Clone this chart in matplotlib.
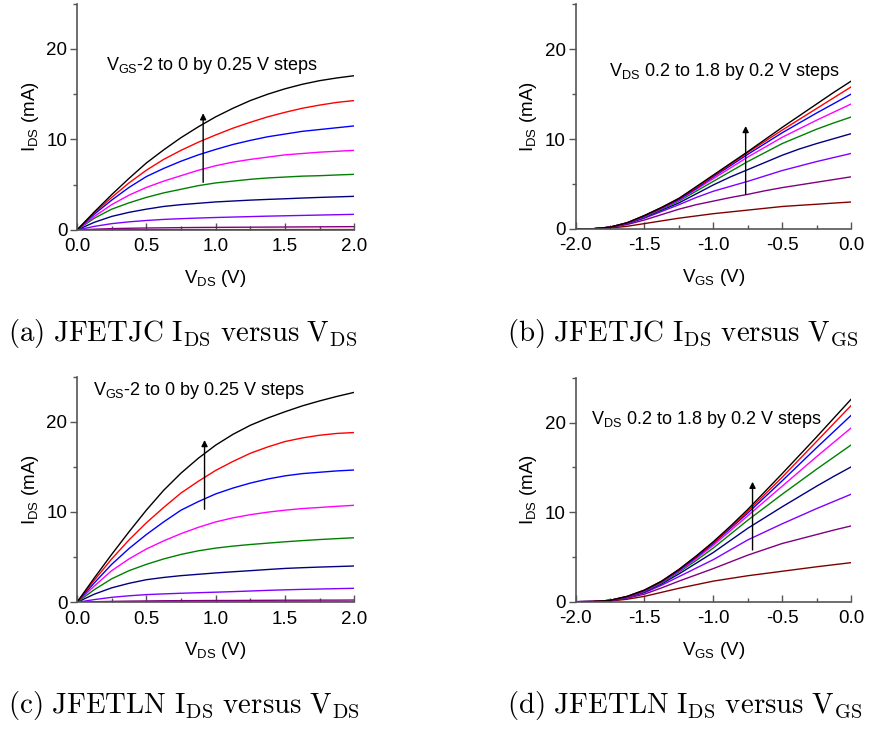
import matplotlib
matplotlib.use("Agg")
import matplotlib.pyplot as plt
from matplotlib.ticker import MultipleLocator

plt.rcParams['font.family'] = ['Liberation Sans', 'DejaVu Sans']
plt.rcParams['mathtext.fontset'] = 'custom'
plt.rcParams['mathtext.rm'] = 'Liberation Sans'
plt.rcParams['mathtext.it'] = 'Liberation Sans:italic'

# curve colours, from the top curve (black) down to the bottom one (wine)
colors = ['#000000', '#ff0000', '#0000ff', '#ff00ff', '#008000',
          '#000080', '#8000ff', '#800080', '#800000']

vds = [0, 0.125, 0.25, 0.375, 0.5, 0.625, 0.75, 0.875, 1.0,
       1.125, 1.25, 1.375, 1.5, 1.625, 1.75, 1.875, 2.0]
vgs = [-2.0, -1.875, -1.75, -1.625, -1.5, -1.375, -1.25, -1.125, -1.0,
       -0.875, -0.75, -0.625, -0.5, -0.375, -0.25, -0.125, 0.0]

# JFETJC output curves, VGS = 0 ... -2 V (top to bottom)
jc_out = [
    [0, 2.0, 3.9, 5.7, 7.4, 8.85, 10.2, 11.4, 12.5, 13.45, 14.3, 15.0, 15.6, 16.1, 16.5, 16.8, 17.05],
    [0, 1.9, 3.6, 5.2, 6.6, 7.8, 8.8, 9.7, 10.5, 11.25, 11.9, 12.5, 13.0, 13.45, 13.8, 14.1, 14.3],
    [0, 1.75, 3.3, 4.7, 5.9, 6.8, 7.6, 8.3, 8.9, 9.45, 9.9, 10.3, 10.6, 10.9, 11.1, 11.3, 11.5],
    [0, 1.5, 2.8, 3.85, 4.7, 5.4, 6.0, 6.6, 7.1, 7.5, 7.8, 8.05, 8.3, 8.45, 8.6, 8.7, 8.8],
    [0, 1.3, 2.3, 3.0, 3.6, 4.1, 4.5, 4.9, 5.2, 5.4, 5.6, 5.75, 5.85, 5.95, 6.0, 6.08, 6.15],
    [0, 0.85, 1.5, 1.95, 2.3, 2.6, 2.8, 2.95, 3.1, 3.2, 3.3, 3.38, 3.45, 3.53, 3.6, 3.66, 3.72],
    [0, 0.4, 0.7, 0.9, 1.05, 1.17, 1.25, 1.32, 1.38, 1.43, 1.48, 1.53, 1.57, 1.61, 1.65, 1.69, 1.73],
    [0, 0.09, 0.15, 0.19, 0.22, 0.24, 0.26, 0.28, 0.29, 0.30, 0.31, 0.32, 0.33, 0.34, 0.35, 0.36, 0.37],
    [0, 0.01, 0.02, 0.02, 0.03, 0.03, 0.03, 0.04, 0.04, 0.04, 0.04, 0.05, 0.05, 0.05, 0.05, 0.05, 0.05],
]

# JFETJC transfer curves, VDS = 1.8 ... 0.2 V (top to bottom)
jc_tr = [
    [0, 0.02, 0.2, 0.7, 1.5, 2.4, 3.4, 4.7, 6.0, 7.3, 8.6, 9.95, 11.3, 12.6, 13.9, 15.2, 16.44],
    [0, 0.02, 0.2, 0.7, 1.5, 2.4, 3.4, 4.6, 5.9, 7.2, 8.5, 9.75, 11.0, 12.2, 13.4, 14.6, 15.8],
    [0, 0.02, 0.2, 0.68, 1.45, 2.35, 3.3, 4.5, 5.8, 7.05, 8.3, 9.5, 10.7, 11.8, 12.9, 13.95, 15.0],
    [0, 0.02, 0.2, 0.66, 1.4, 2.3, 3.2, 4.4, 5.6, 6.8, 8.0, 9.1, 10.2, 11.15, 12.1, 13.0, 13.9],
    [0, 0.02, 0.2, 0.64, 1.35, 2.2, 3.1, 4.2, 5.3, 6.4, 7.5, 8.5, 9.5, 10.3, 11.1, 11.8, 12.45],
    [0, 0.02, 0.2, 0.62, 1.3, 2.1, 2.9, 3.9, 4.9, 5.8, 6.6, 7.4, 8.2, 8.9, 9.5, 10.05, 10.6],
    [0, 0.02, 0.18, 0.58, 1.2, 1.95, 2.7, 3.5, 4.2, 4.75, 5.3, 5.9, 6.5, 7.0, 7.5, 7.95, 8.4],
    [0, 0.02, 0.15, 0.5, 1.0, 1.6, 2.2, 2.7, 3.1, 3.5, 3.85, 4.25, 4.6, 4.9, 5.2, 5.5, 5.8],
    [0, 0.01, 0.1, 0.3, 0.6, 0.9, 1.2, 1.45, 1.7, 1.9, 2.1, 2.3, 2.5, 2.63, 2.75, 2.88, 3.0],
]

# JFETLN output curves
ln_out = [
    [0, 2.7, 5.3, 7.8, 10.2, 12.4, 14.3, 15.95, 17.4, 18.6, 19.6, 20.4, 21.1, 21.75, 22.3, 22.8, 23.25],
    [0, 2.45, 4.8, 6.9, 8.8, 10.5, 12.1, 13.4, 14.6, 15.6, 16.5, 17.2, 17.8, 18.2, 18.5, 18.7, 18.8],
    [0, 2.15, 4.2, 5.95, 7.5, 8.9, 10.2, 11.15, 12.0, 12.65, 13.2, 13.65, 14.0, 14.25, 14.4, 14.55, 14.65],
    [0, 1.8, 3.5, 4.8, 5.9, 6.8, 7.6, 8.3, 8.9, 9.35, 9.7, 9.98, 10.2, 10.38, 10.5, 10.63, 10.74],
    [0, 1.4, 2.6, 3.5, 4.2, 4.8, 5.3, 5.7, 6.0, 6.22, 6.4, 6.55, 6.7, 6.83, 6.95, 7.05, 7.15],
    [0, 0.9, 1.6, 2.1, 2.5, 2.75, 2.95, 3.1, 3.25, 3.38, 3.5, 3.63, 3.75, 3.83, 3.9, 3.96, 4.02],
    [0, 0.3, 0.55, 0.72, 0.85, 0.93, 1.0, 1.06, 1.12, 1.18, 1.25, 1.32, 1.38, 1.43, 1.47, 1.51, 1.55],
    [0, 0.06, 0.1, 0.13, 0.15, 0.17, 0.18, 0.19, 0.2, 0.2, 0.21, 0.22, 0.23, 0.23, 0.24, 0.24, 0.25],
    [0, 0.01, 0.01, 0.01, 0.02, 0.02, 0.02, 0.02, 0.02, 0.02, 0.02, 0.02, 0.02, 0.02, 0.02, 0.02, 0.02],
]

# JFETLN transfer curves
ln_tr = [
    [0, 0.02, 0.15, 0.6, 1.3, 2.3, 3.6, 5.1, 6.7, 8.45, 10.3, 12.3, 14.3, 16.35, 18.4, 20.5, 22.6],
    [0, 0.02, 0.15, 0.6, 1.3, 2.3, 3.6, 5.05, 6.6, 8.3, 10.1, 12.0, 13.9, 15.9, 17.9, 19.9, 21.9],
    [0, 0.02, 0.15, 0.58, 1.25, 2.25, 3.5, 4.95, 6.5, 8.2, 9.9, 11.7, 13.5, 15.35, 17.2, 19.0, 20.8],
    [0, 0.02, 0.15, 0.56, 1.2, 2.2, 3.4, 4.8, 6.3, 7.95, 9.6, 11.25, 12.9, 14.55, 16.2, 17.8, 19.4],
    [0, 0.02, 0.15, 0.54, 1.15, 2.1, 3.3, 4.6, 6.0, 7.55, 9.1, 10.55, 12.0, 13.4, 14.8, 16.15, 17.5],
    [0, 0.02, 0.15, 0.52, 1.1, 2.0, 3.1, 4.3, 5.5, 6.85, 8.2, 9.4, 10.6, 11.75, 12.9, 14.0, 15.05],
    [0, 0.02, 0.12, 0.48, 1.0, 1.85, 2.8, 3.75, 4.7, 5.8, 6.9, 7.8, 8.7, 9.55, 10.4, 11.2, 12.0],
    [0, 0.02, 0.1, 0.4, 0.85, 1.55, 2.3, 3.0, 3.7, 4.45, 5.2, 5.85, 6.5, 7.0, 7.5, 8.0, 8.46],
    [0, 0.01, 0.07, 0.28, 0.6, 1.05, 1.5, 1.9, 2.3, 2.6, 2.9, 3.15, 3.4, 3.65, 3.9, 4.13, 4.36],
]

out_note = r'V$_{\rm GS}$-2 to 0 by 0.25 V steps'
tr_note = r'V$_{\rm DS}$ 0.2 to 1.8 by 0.2 V steps'

panels = [
    # rect, x, curves, note, note xy, arrow (x, y0, y1), xlabel, caption, caption px
    ([0.0885, 0.6858, 0.3187, 0.3091], vds, jc_out, out_note, (0.21, 18.2),
     (0.91, 5.27, 12.9), r'V$_{\rm DS}$ (V)',
     r'$\mathrm{(a)\ JFETJC\ I_{DS}\ versus\ V_{DS}}$', (8, 333)),
    ([0.6617, 0.6872, 0.3164, 0.3069], vgs, jc_tr, tr_note, (-1.756, 17.5),
     (-0.765, 3.86, 11.46), r'V$_{\rm GS}$ (V)',
     r'$\mathrm{(b)\ JFETJC\ I_{DS}\ versus\ V_{GS}}$', (507, 333)),
    ([0.0885, 0.1772, 0.3187, 0.3084], vds, ln_out, out_note, (0.113, 23.5),
     (0.92, 10.3, 17.97), r'V$_{\rm DS}$ (V)',
     r'$\mathrm{(c)\ JFETLN\ I_{DS}\ versus\ V_{DS}}$', (8, 706)),
    ([0.6617, 0.1780, 0.3164, 0.3057], vgs, ln_tr, tr_note, (-1.889, 20.4),
     (-0.715, 5.78, 13.4), r'V$_{\rm GS}$ (V)',
     r'$\mathrm{(d)\ JFETLN\ I_{DS}\ versus\ V_{GS}}$', (507, 706)),
]

fig = plt.figure(figsize=(8.7, 7.32), dpi=100)

for rect, x, curves, note, note_xy, arrow, xlabel, caption, cap_xy in panels:
    ax = fig.add_axes(rect)
    for ys, c in zip(curves[::-1], colors[::-1]):
        ax.plot(x, ys, color=c, lw=1.0)
    ax.set_xlim(x[0], x[-1])
    ax.set_ylim(0, 25)
    for s in ['top', 'right']:
        ax.spines[s].set_visible(False)
    for s in ['left', 'bottom']:
        ax.spines[s].set_color('#555555')
        ax.spines[s].set_linewidth(1.2)
    ax.xaxis.set_major_locator(MultipleLocator(0.5))
    ax.xaxis.set_minor_locator(MultipleLocator(0.25))
    ax.yaxis.set_major_locator(MultipleLocator(10))
    ax.yaxis.set_minor_locator(MultipleLocator(5))
    ax.xaxis.set_major_formatter(plt.FormatStrFormatter('%.1f'))
    ax.tick_params(axis='x', which='both', direction='in', color='#555555',
                   labelsize=13.5, pad=6)
    ax.tick_params(axis='x', which='major', length=5, width=1)
    ax.tick_params(axis='x', which='minor', length=3, width=1)
    ax.tick_params(axis='y', which='both', direction='out', color='#555555',
                   labelsize=13.5, pad=2)
    ax.tick_params(axis='y', which='major', length=5, width=1)
    ax.tick_params(axis='y', which='minor', length=3, width=1)
    ax.set_xlabel(xlabel, fontsize=13.5, labelpad=9)
    ax.set_ylabel(r'I$_{\rm DS}$ (mA)', fontsize=13.5, labelpad=4)
    ax.text(note_xy[0], note_xy[1], note, fontsize=13, va='center', ha='left')
    ax.annotate('', xy=(arrow[0], arrow[2]), xytext=(arrow[0], arrow[1]),
                arrowprops=dict(arrowstyle='-|>', color='k', lw=1.0,
                                mutation_scale=9, shrinkA=0, shrinkB=0))
    fig.text(cap_xy[0] / 870, 1 - cap_xy[1] / 732, caption, fontsize=20.8,
             math_fontfamily='cm', ha='left', va='center')

fig.savefig('out.png', dpi=100)
